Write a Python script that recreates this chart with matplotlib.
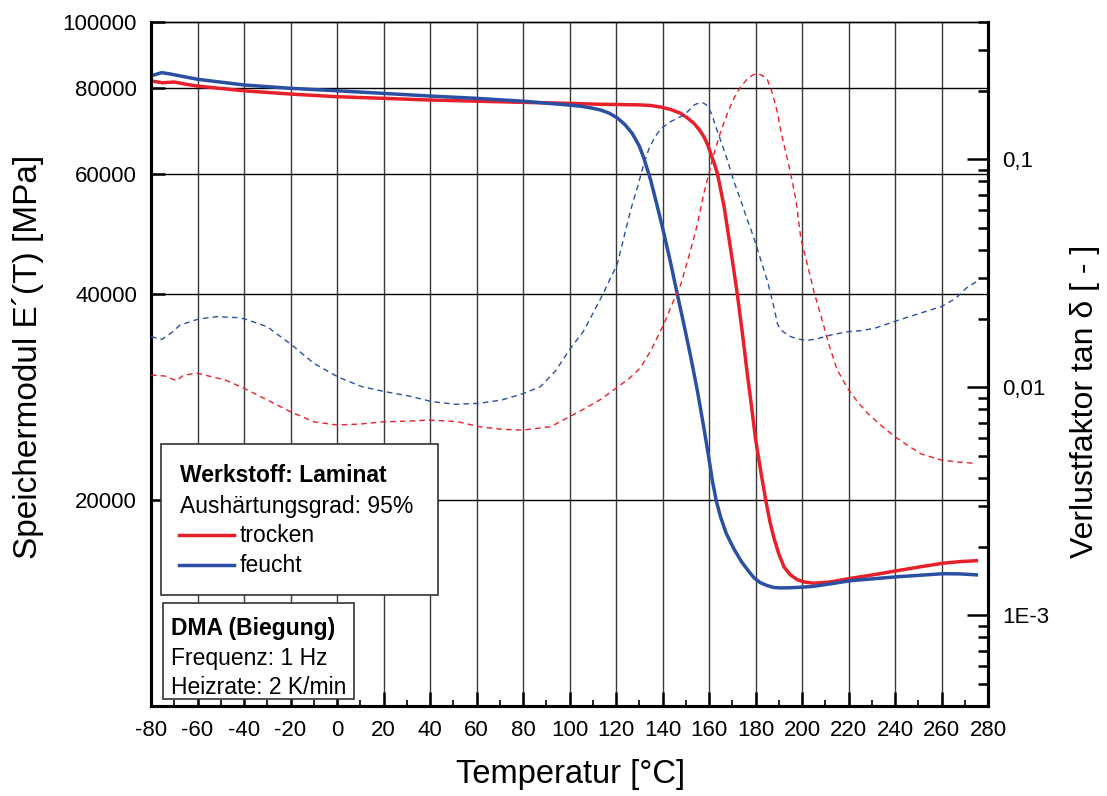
import matplotlib
matplotlib.use("Agg")
import matplotlib.pyplot as plt
from matplotlib.ticker import FixedLocator, NullLocator, FixedFormatter, MultipleLocator
from matplotlib.patches import Rectangle
from matplotlib.lines import Line2D

plt.rcParams['font.family'] = ['Liberation Sans', 'DejaVu Sans']
plt.rcParams['axes.unicode_minus'] = False

# ---------------- data ----------------
# Storage modulus E'(T), trocken (dry)
T_tr = [-80, -75, -70, -65, -60, -40, -20, 0, 20, 40, 60, 80, 100, 113.4, 120, 130, 135,
        139.2, 143.5, 147.8, 150.5, 153.5, 155.8, 157.8, 159.3, 160.7, 162.2, 163.6, 165,
        166.5, 168.6, 170.4, 172.2, 174.4, 176.5, 178.3, 180, 182.2, 184.4, 186.2, 188,
        190, 192.3, 195, 198, 201, 205, 212, 221, 231, 241, 251, 260.5, 268, 275]
E_tr = [82000, 81500, 81700, 81100, 80600, 79330, 78460, 77760, 77340, 76900, 76600,
        76300, 76050, 75800, 75750, 75650, 75500, 75100, 74500, 73530, 72500, 71100,
        69600, 67970, 66300, 64270, 62200, 60090, 56900, 53700, 48250, 44000, 39950,
        35000, 30550, 27400, 24600, 22100, 20000, 18600, 17570, 16700, 15960, 15550,
        15300, 15180, 15120, 15180, 15370, 15560, 15770, 15980, 16170, 16260, 16310]

# Storage modulus E'(T), feucht (wet)
T_fe = [-80, -75.4, -71.8, -60, -40, -20, 0, 20, 40, 60, 80, 100, 105, 110, 113.4, 117,
        120.6, 124, 127, 130, 132, 134.9, 137.8, 140.4, 143.4, 146.4, 149.3, 152.1, 155,
        157.8, 159.7, 161.5, 163.2, 165, 167.5, 170.8, 174, 177, 179.4, 182, 185, 188,
        190.9, 195, 200, 205, 213, 221, 231, 241, 251, 260.5, 268, 275]
E_fe = [83400, 84330, 83950, 82460, 80900, 80000, 79330, 78640, 77940, 77340, 76600,
        75600, 75300, 74800, 74360, 73600, 72400, 70700, 68700, 65900, 63200, 58750,
        53700, 49410, 44600, 39950, 36000, 32440, 28900, 25500, 23300, 21300, 19900,
        18880, 17850, 16950, 16250, 15750, 15390, 15150, 15000, 14900, 14880, 14890,
        14920, 14960, 15100, 15250, 15350, 15450, 15530, 15610, 15600, 15550]

# Loss factor tan delta, trocken
T_rd = [-80, -74, -69, -66, -60, -48, -40, -30, -20, -10, 0, 10, 20, 30, 40, 52, 61, 71,
        80, 92, 100, 105, 113, 120.6, 126, 130.6, 135, 140.6, 144, 147.8, 151.5, 155,
        157.8, 160.7, 162.2, 165, 167.9, 170.8, 173.6, 176.5, 178.7, 180.8, 183, 185.2,
        187.5, 189.5, 190.9, 193.8, 195.2, 197.4, 199.5, 202.5, 205.2, 208.5, 211.5, 215,
        219.6, 224, 228.2, 234, 239.7, 245, 251.2, 259.8, 267, 274]
tan_rd = [0.01131, 0.0112, 0.01068, 0.01131, 0.01151, 0.01076, 0.0099, 0.0088, 0.00781,
          0.00706, 0.00683, 0.0069, 0.00706, 0.0071, 0.00718, 0.00706, 0.00672, 0.00654,
          0.00649, 0.00672, 0.00743, 0.0079, 0.0088, 0.0100, 0.0110, 0.0122, 0.0145,
          0.0189, 0.0230, 0.0281, 0.0380, 0.0518, 0.0709, 0.0924, 0.1062, 0.1317, 0.159,
          0.1857, 0.208, 0.225, 0.234, 0.2377, 0.2329, 0.2225, 0.191, 0.159, 0.1325,
          0.0993, 0.0859, 0.0663, 0.0449, 0.0340, 0.0261, 0.0200, 0.0155, 0.0120, 0.0099,
          0.0086, 0.0077, 0.0068, 0.0061, 0.0056, 0.0051, 0.0048, 0.0047, 0.00464]

# Loss factor tan delta, feucht
T_bd = [-80, -75.4, -71, -67.5, -59.6, -51.7, -43, -39.5, -30, -19.4, -10, 0.7, 10.7,
        20.8, 30.8, 40.9, 51, 61, 71, 80.3, 87.5, 94, 100.4, 106, 110.5, 114.8, 120.6,
        126.3, 129.5, 132, 134, 136.5, 139.2, 141.5, 143.5, 146.5, 149.3, 151.5, 153.6,
        155.5, 157.2, 158.7, 160, 161.5, 162.9, 165.4, 167.9, 170.8, 173.6, 176.5, 179.4,
        182.3, 185.2, 187.5, 189.5, 191, 192.3, 195, 198, 202.4, 207, 212.4, 219.6, 225,
        231.1, 237, 242.6, 250, 259.8, 266, 271.3, 275]
tan_bd = [0.01668, 0.01622, 0.0174, 0.01875, 0.01992, 0.0204, 0.0202, 0.01992, 0.01843,
          0.01532, 0.01274, 0.01106, 0.01006, 0.00956, 0.00916, 0.00865, 0.00842, 0.0085,
          0.0088, 0.0094, 0.01006, 0.0118, 0.01482, 0.0176, 0.0215, 0.02614, 0.03487,
          0.0599, 0.0771, 0.0957, 0.1099, 0.1241, 0.1357, 0.1414, 0.1462, 0.1518, 0.1564,
          0.1644, 0.173, 0.1764, 0.177, 0.1738, 0.1673, 0.1548, 0.139, 0.1178, 0.0993,
          0.0795, 0.0663, 0.0542, 0.0449, 0.0361, 0.0291, 0.0234, 0.0189, 0.01783, 0.0174,
          0.0167, 0.01629, 0.01605, 0.01636, 0.01695, 0.01752, 0.0177, 0.01813, 0.0190,
          0.01986, 0.0210, 0.02256, 0.0245, 0.0276, 0.0290]

x_ticks = list(range(-80, 281, 20))
yl_ticks = [20000, 40000, 60000, 80000, 100000]
yl_labels = ['20000', '40000', '60000', '80000', '100000']
yr_ticks = [1e-3, 1e-2, 1e-1]
yr_labels = ['1E-3', '0,01', '0,1']

RED = '#E8202A'
BLUE = '#2B50A3'

# ---------------- figure ----------------
W, H = 1107, 796
fig = plt.figure(figsize=(W / 100, H / 100), dpi=100)
L, R, T, B = 151, 988, 22, 706
ax = fig.add_axes([L / W, 1 - B / H, (R - L) / W, (B - T) / H])
ax2 = ax.twinx()

ax.set_xlim(-80, 280)
ax.set_yscale('log')
ax.set_ylim(10000, 100000)
ax2.set_yscale('log')
ax2.set_ylim(4e-4, 0.4)

# grid
for xv in x_ticks[1:-1]:
    ax.axvline(xv, color='#3a3a3a', lw=1.0, zorder=0.5)
for yv in yl_ticks[:-1]:
    ax.axhline(yv, color='black', lw=1.0, zorder=0.5)

# curves
ax.plot(T_tr, E_tr, color=RED, lw=2.5, zorder=3)
ax.plot(T_fe, E_fe, color=BLUE, lw=2.5, zorder=3)
ax2.plot(T_rd, tan_rd, color=RED, lw=1.0, ls=(0, (4, 3)), zorder=3)
ax2.plot(T_bd, tan_bd, color=BLUE, lw=1.0, ls=(0, (4, 3)), zorder=3)

# ticks
ax.xaxis.set_major_locator(FixedLocator(x_ticks))
ax.xaxis.set_minor_locator(MultipleLocator(10))
ax.yaxis.set_major_locator(FixedLocator(yl_ticks))
ax.yaxis.set_major_formatter(FixedFormatter(yl_labels))
ax.yaxis.set_minor_locator(NullLocator())
ax.tick_params(axis='x', which='major', direction='in', length=10, width=1.8,
               labelsize=16, pad=10, top=False)
ax.tick_params(axis='x', which='minor', direction='in', length=4, width=1.2, top=False)
ax.tick_params(axis='y', which='major', direction='in', length=10, width=1.8,
               labelsize=16, pad=10)

ax2.yaxis.set_major_locator(FixedLocator(yr_ticks))
ax2.yaxis.set_major_formatter(FixedFormatter(yr_labels))
minors = []
for dec in [1e-4, 1e-3, 1e-2, 1e-1]:
    for m in range(2, 10):
        v = m * dec
        if 4e-4 <= v <= 0.4:
            minors.append(v)
ax2.yaxis.set_minor_locator(FixedLocator(minors))
ax2.tick_params(axis='y', which='major', direction='in', length=15, width=1.8,
                labelsize=16, pad=10)
ax2.tick_params(axis='y', which='minor', direction='in', length=7, width=1.8)

for a in (ax, ax2):
    for s in ('left', 'right', 'bottom'):
        a.spines[s].set_linewidth(2.2)
    a.spines['top'].set_linewidth(1.0)

# axis labels
fig.text(571 / W, 1 - 775 / H, 'Temperatur [°C]', fontsize=23.5, ha='center', va='center')
fig.text(28 / W, 1 - 357 / H, 'Speichermodul E´(T) [MPa]', fontsize=24, ha='center',
         va='center', rotation=90)
fig.text(1085 / W, 1 - 401 / H, 'Verlustfaktor tan δ [ - ]', fontsize=23, ha='center',
         va='center', rotation=90)

# legend boxes
def fx(px):
    return px / W

def fy(py):
    return 1 - py / H

box1 = Rectangle((fx(161), fy(595)), (438 - 161) / W, (595 - 444) / H,
                 transform=fig.transFigure, facecolor='white', edgecolor='#333333',
                 lw=1.2, zorder=10)
box2 = Rectangle((fx(163), fy(699)), (354 - 163) / W, (699 - 603) / H,
                 transform=fig.transFigure, facecolor='white', edgecolor='#333333',
                 lw=1.2, zorder=10)
fig.add_artist(box1)
fig.add_artist(box2)

fs = 16.5
fig.text(fx(180), fy(476), 'Werkstoff: Laminat', fontsize=fs, fontweight='bold',
         va='center', ha='left', zorder=11)
fig.text(fx(180), fy(506), 'Aushärtungsgrad: 95%', fontsize=fs, va='center', ha='left',
         zorder=11)
fig.add_artist(Line2D([fx(179), fx(234)], [fy(535), fy(535)], color=RED, lw=2.5,
                      transform=fig.transFigure, zorder=11))
fig.text(fx(240), fy(535), 'trocken', fontsize=fs, va='center', ha='left', zorder=11)
fig.add_artist(Line2D([fx(179), fx(234)], [fy(565), fy(565)], color=BLUE, lw=2.5,
                      transform=fig.transFigure, zorder=11))
fig.text(fx(240), fy(565), 'feucht', fontsize=fs, va='center', ha='left', zorder=11)

fig.text(fx(171), fy(628), 'DMA (Biegung)', fontsize=fs, fontweight='bold', va='center',
         ha='left', zorder=11)
fig.text(fx(171), fy(658), 'Frequenz: 1 Hz', fontsize=fs, va='center', ha='left', zorder=11)
fig.text(fx(171), fy(687), 'Heizrate: 2 K/min', fontsize=fs, va='center', ha='left',
         zorder=11)

fig.savefig('out.png', dpi=100)
